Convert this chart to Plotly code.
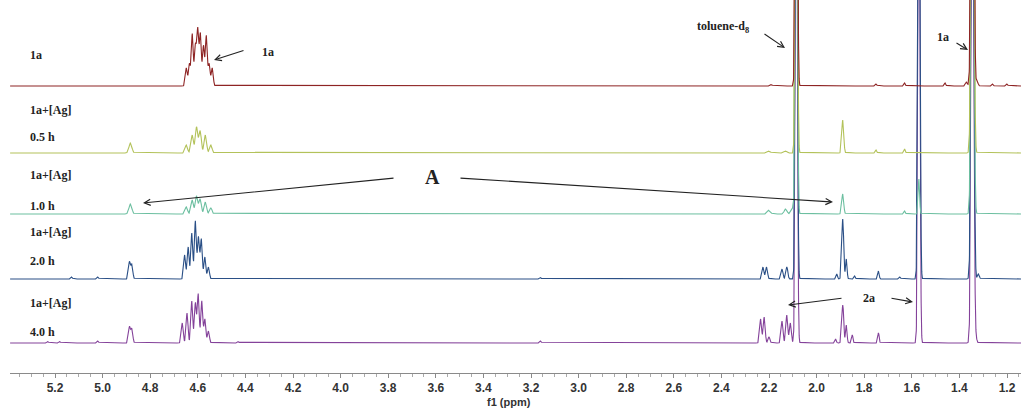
import numpy as np
import plotly.graph_objects as go

# ---------------- data ----------------
# peak lists: chemical shift (ppm), height (display units), line width (ppm)
trace_names = ["1a", "1a+[Ag] 0.5 h", "1a+[Ag] 1.0 h", "1a+[Ag] 2.0 h", "1a+[Ag] 4.0 h"]

peaks_1a = [
    (4.648, 18, 0.004), (4.623, 52, 0.004), (4.610, 40, 0.004), (4.600, 56, 0.004),
    (4.589, 52, 0.004), (4.576, 40, 0.004), (4.564, 50, 0.004), (4.539, 18, 0.004),
    (4.635, 22, 0.004), (4.552, 22, 0.004),
    (2.19, 1.5, 0.004), (2.085, 600, 0.004), (1.75, 2, 0.003), (1.63, 3, 0.003),
    (1.46, 3, 0.003), (1.37, 4, 0.004), (1.345, 600, 0.005), (1.325, 4, 0.004),
    (1.26, 2, 0.003), (1.20, 2, 0.003),
]
peaks_05h = [
    (4.883, 10, 0.006),
    (4.648, 8, 0.005), (4.623, 18, 0.005), (4.605, 26, 0.005), (4.59, 22, 0.005),
    (4.568, 18, 0.005), (4.545, 8, 0.005),
    (2.2, 2, 0.006), (2.13, 2, 0.006), (2.085, 600, 0.004), (1.89, 33, 0.004),
    (1.75, 3, 0.003), (1.63, 4, 0.003), (1.345, 600, 0.005),
]
peaks_10h = [
    (4.883, 10, 0.006),
    (4.648, 7, 0.005), (4.623, 14, 0.005), (4.605, 18, 0.005), (4.59, 15, 0.005),
    (4.568, 12, 0.005), (4.545, 6, 0.005),
    (2.2, 4, 0.006), (2.13, 5, 0.006), (2.10, 6, 0.006), (2.085, 600, 0.004),
    (1.89, 20, 0.004), (1.63, 3, 0.003), (1.57, 35, 0.003), (1.345, 600, 0.005),
]
peaks_20h = [
    (5.13, 2, 0.003), (5.02, 2, 0.003), (4.887, 17, 0.004), (4.877, 14, 0.004),
    (4.655, 24, 0.004), (4.64, 32, 0.004), (4.625, 46, 0.004), (4.61, 58, 0.004),
    (4.597, 42, 0.004), (4.585, 40, 0.004), (4.57, 22, 0.004), (4.555, 12, 0.004),
    (3.16, 1.5, 0.003),
    (2.225, 12, 0.004), (2.21, 12, 0.004), (2.145, 10, 0.004), (2.125, 12, 0.004),
    (2.085, 600, 0.004), (1.915, 5, 0.003), (1.89, 60, 0.004), (1.875, 20, 0.003),
    (1.84, 3, 0.003), (1.74, 8, 0.003), (1.65, 2, 0.003), (1.57, 600, 0.004),
    (1.345, 600, 0.005), (1.32, 5, 0.004),
]
peaks_40h = [
    (5.23, 1.5, 0.003), (5.18, 1.5, 0.003), (5.02, 2, 0.003), (4.43, 1.5, 0.003),
    (4.887, 16, 0.004), (4.877, 14, 0.004),
    (4.665, 20, 0.004), (4.645, 30, 0.004), (4.625, 42, 0.004), (4.61, 40, 0.004),
    (4.598, 49, 0.004), (4.583, 42, 0.004), (4.57, 24, 0.004), (4.555, 12, 0.004),
    (3.16, 2, 0.003),
    (2.235, 24, 0.004), (2.22, 26, 0.004), (2.2, 6, 0.004), (2.145, 22, 0.004),
    (2.125, 28, 0.004), (2.11, 20, 0.004), (2.085, 600, 0.004),
    (1.92, 4, 0.003), (1.89, 38, 0.004), (1.875, 18, 0.003), (1.85, 8, 0.003),
    (1.74, 10, 0.003), (1.57, 600, 0.004), (1.345, 600, 0.005), (1.33, 4, 0.004),
]

tick_values = [5.2, 5.0, 4.8, 4.6, 4.4, 4.2, 4.0, 3.8, 3.6, 3.4, 3.2, 3.0, 2.8,
               2.6, 2.4, 2.2, 2.0, 1.8, 1.6, 1.4, 1.2]

# ---------------- styling / layout ----------------
all_peaks = [peaks_1a, peaks_05h, peaks_10h, peaks_20h, peaks_40h]
colors = ["#8e2424", "#b3c25a", "#6cbfa0", "#2a4f86", "#84429a"]
baseline_px = [86, 153, 214, 279, 343]   # vertical pixel position of each baseline

W, H = 1021, 412
ML, MB = 10, 39
PX_PER_PPM = 238.0
X_LEFT = 5.2 + (55 - ML) / PX_PER_PPM
X_RIGHT = X_LEFT - (W - ML) / PX_PER_PPM
Y_TOP = H - MB


def px2x(px):
    return 5.2 - (px - 55) / PX_PER_PPM


def py2y(py):
    return Y_TOP - py


ppm = np.arange(X_RIGHT, X_LEFT, 0.0005)


def spectrum(peaks):
    s = np.zeros_like(ppm)
    for c, h, w in peaks:
        s += h * np.exp(-0.5 * ((ppm - c) / w) ** 2)
    return s


fig = go.Figure()
for i in reversed(range(5)):
    fig.add_trace(go.Scatter(
        x=ppm, y=spectrum(all_peaks[i]) + py2y(baseline_px[i]), mode="lines",
        line=dict(color=colors[i], width=1.1), name=trace_names[i],
        showlegend=False, hoverinfo="skip"))

serif = "Liberation Serif"
ann = []

left_labels = [("1a", 55), ("1a+[Ag]", 110), ("0.5 h", 137), ("1a+[Ag]", 175), ("1.0 h", 206),
               ("1a+[Ag]", 232), ("2.0 h", 261), ("1a+[Ag]", 303), ("4.0 h", 332)]
for t, py in left_labels:
    ann.append(dict(x=px2x(28), y=py2y(py), text=t, showarrow=False, xanchor="left",
                    yanchor="middle", font=dict(family=serif, size=12, color="#222", weight="bold")))


def arrow(x0, y0, x1, y1):
    ann.append(dict(x=px2x(x1), y=py2y(y1), ax=px2x(x0), ay=py2y(y0), axref="x", ayref="y",
                    text="", showarrow=True, arrowhead=5, arrowsize=1.1, arrowwidth=1.1,
                    arrowcolor="#222"))


def label(px, py, t, size=12):
    ann.append(dict(x=px2x(px), y=py2y(py), text=t, showarrow=False, xanchor="center",
                    yanchor="middle", font=dict(family=serif, size=size, color="#222", weight="bold")))


label(268, 52, "1a")
arrow(245, 50, 214, 60)
label(723, 27, "toluene-d<sub>8</sub>")
arrow(763, 33, 785, 48)
label(943, 37, "1a")
arrow(955, 42, 968, 50)
label(432, 177, "A", size=20)
arrow(395, 178, 143, 203)
arrow(459, 178, 833, 202)
label(869, 298, "2a")
arrow(843, 298, 788, 305)
arrow(890, 298, 913, 302)

ann.append(dict(x=(509 - ML) / (W - ML), y=-(402 - Y_TOP) / Y_TOP, xref="paper", yref="paper",
                text="f1 (ppm)", showarrow=False, xanchor="center", yanchor="middle",
                font=dict(family="Liberation Sans", size=11, color="#333", weight="bold")))

fig.update_layout(
    width=W, height=H, margin=dict(l=ML, r=0, t=0, b=MB),
    paper_bgcolor="white", plot_bgcolor="white", showlegend=False,
    annotations=ann,
    xaxis=dict(range=[X_LEFT, X_RIGHT], showgrid=False, zeroline=False, showline=True,
               linecolor="#8a8a8a", linewidth=1, ticks="outside", ticklen=4, tickcolor="#8a8a8a",
               tickvals=tick_values, ticktext=[f"{v:.1f}" for v in tick_values],
               minor=dict(dtick=0.05, tick0=0, ticks="outside", ticklen=3, tickcolor="#aaaaaa"),
               tickfont=dict(family="Liberation Sans", size=12, color="#333", weight="bold")),
    yaxis=dict(range=[0, Y_TOP], visible=False, fixedrange=True),
)

fig.write_html("out.html", config={"displayModeBar": False},
               post_script="document.body.style.margin='0px';")
